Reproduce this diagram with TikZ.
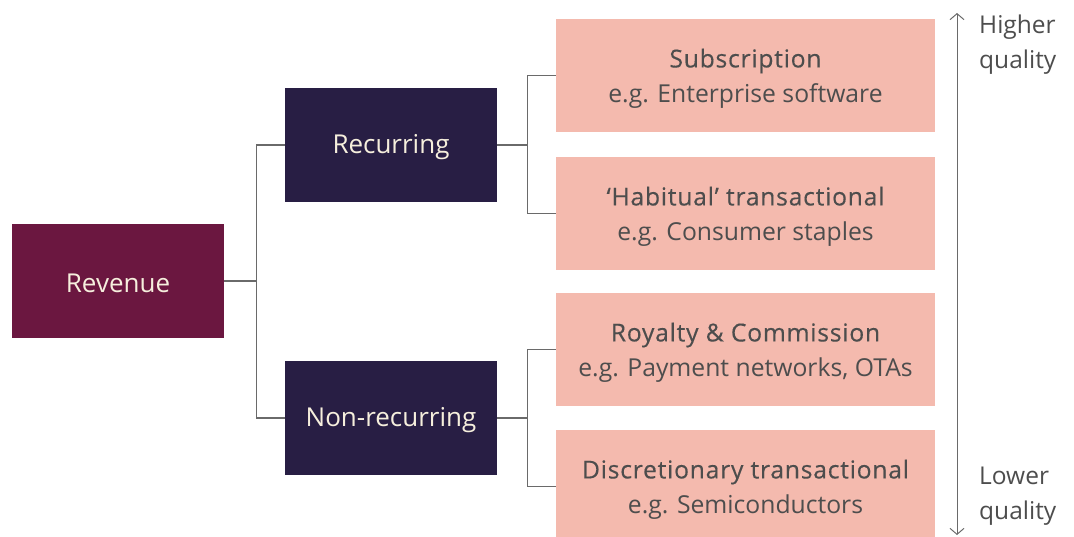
\documentclass[tikz,border=0pt]{standalone}
\usepackage{fontspec}
\setmainfont{Open Sans}
\newfontfamily\medfont[FakeBold=0.3, LetterSpace=3]{Open Sans}
\usetikzlibrary{arrows.meta}

\definecolor{maroon}{HTML}{6B1740}
\definecolor{navy}{HTML}{281E44}
\definecolor{salmon}{HTML}{F4BAAE}
\definecolor{cream}{HTML}{F6EFDD}
\definecolor{inkgray}{HTML}{4D4D4D}
\definecolor{linegray}{HTML}{6A6A6A}

\tikzset{
  % box fills; the caption sits on the box as a centred label, nudged down a little
  darktext/.style={text=cream, inner sep=0pt, yshift=-2.5pt, font=\fontsize{26}{30}\selectfont},
  leaftext/.style={text=inkgray, inner sep=0pt, yshift=-3pt, align=center,
    font=\fontsize{24.7}{35}\selectfont},
  rootbox/.style={fill=maroon, minimum width=212pt, minimum height=114pt,
    inner sep=0pt, label={[darktext]center:#1}},
  midbox/.style={fill=navy, minimum width=212pt, minimum height=114pt,
    inner sep=0pt, label={[darktext]center:#1}},
  leafbox/.style 2 args={fill=salmon, minimum width=379pt, minimum height=113pt,
    inner sep=0pt, label={[leaftext]center:{{\medfont #1}\\#2}}},
  link/.style={draw=linegray, line width=1.3pt},
  qualityaxis/.style={draw=linegray, line width=1pt, {Straight Barb[length=6pt,width=14pt]}-{Straight Barb[length=6pt,width=14pt]}},
  scaletext/.style={text=inkgray, align=left, anchor=north west, inner sep=0pt,
    font=\fontsize{24.5}{35}\selectfont}
}

\begin{document}
\begin{tikzpicture}[x=1pt, y=-1pt]
  \useasboundingbox (0,0) rectangle (1074,536);
  \clip (0,0) rectangle (1074,536);

  % tree nodes
  \node[rootbox={Revenue}] (rev) at (118,281) {};
  \node[midbox={Recurring}] (rec) at (391,145) {};
  \node[midbox={Non-recurring}] (non) at (391,418) {};

  \node[leafbox={Subscription}{e.g. Enterprise software}] (sub) at (745.5,75.5) {};
  \node[leafbox={‘Habitual’ transactional}{e.g. Consumer staples}] (hab) at (745.5,213.5) {};
  \node[leafbox={Royalty \& Commission}{e.g. Payment networks, OTAs}] (roy) at (745.5,349.5) {};
  \node[leafbox={Discretionary transactional}{e.g. Semiconductors}] (dis) at (745.5,486.5) {};

  % elbow connectors
  \coordinate (j0) at ([xshift=32pt]rev.east);
  \coordinate (j1) at ([xshift=30pt]rec.east);
  \coordinate (j2) at ([xshift=30pt]non.east);
  \draw[link] (rev.east) -- (j0) |- (rec.west);
  \draw[link] (j0) |- (non.west);
  \draw[link] (rec.east) -- (j1) |- (sub.west);
  \draw[link] (j1) |- (hab.west);
  \draw[link] (non.east) -- (j2) |- (roy.west);
  \draw[link] (j2) |- (dis.west);

  % quality axis
  \coordinate (qtop) at (957,13);
  \coordinate (qbot) at (957,535);
  \draw[qualityaxis] (qbot) -- (qtop);
  \node[scaletext] (hi) at (979,15) {Higher\\quality};
  \node[scaletext] (lo) at (979,467) {Lower\\quality};
\end{tikzpicture}
\end{document}
